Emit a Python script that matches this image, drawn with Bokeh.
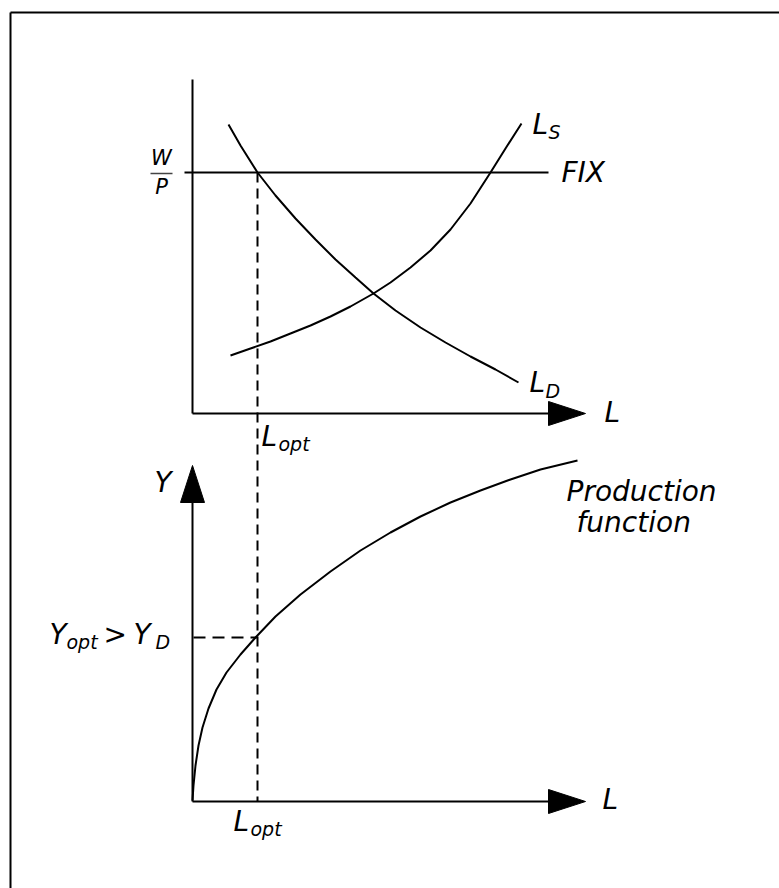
from bokeh.plotting import figure
from bokeh.models import Range1d
from bokeh.core.properties import value
from bokeh.embed import file_html
from bokeh.resources import INLINE

# ---- data (diagram coordinates: x to the right, y downward) ----
# Labour demand curve L_D (top panel)
ld_x = [228, 240, 257, 275, 295, 315, 335, 355, 373, 395, 420, 445, 470, 495, 518]
ld_y = [124, 145, 172, 195, 218, 239, 259, 277, 293, 310, 327, 342, 356, 369, 382]
# Labour supply curve L_S (top panel)
ls_x = [230, 250, 270, 290, 310, 330, 350, 373, 390, 410, 430, 450, 470, 490, 505, 521]
ls_y = [355, 348, 341, 333, 325, 316, 306, 293, 282, 267, 250, 229, 203, 172, 148, 123]
# Fixed real wage level
fix_y = 172
fix_x = [184, 548]
# Production function (bottom panel)
pf_x = [192, 193, 195, 198, 202, 208, 216, 226, 240, 255, 275, 300, 330, 360, 390, 420, 450, 480, 510, 540, 577]
pf_y = [800, 785, 765, 745, 727, 708, 689, 672, 654, 637, 616, 594, 571, 550, 532, 516, 502, 490, 479, 469, 460]
l_opt = 257
y_opt = 637

# axes
top_origin = (192, 413)
top_yaxis_top = 79
bot_origin = (192, 801)
bot_yaxis_top = 465
x_axis_end = 585
head_len, head_half = 37, 12

W, H = 779, 888
p = figure(width=W, height=H, x_range=Range1d(0, W), y_range=Range1d(H, 0),
           output_backend="svg", toolbar_location=None, min_border=0)
p.axis.visible = False
p.grid.visible = False
p.outline_line_color = None
p.background_fill_color = "white"
p.border_fill_color = "white"

# frame
p.line([10, 779], [12, 12], line_color="black", line_width=2)
p.line([10, 10], [12, 888], line_color="black", line_width=2)

# top panel axes
p.line([top_origin[0], top_origin[0]], [top_yaxis_top, top_origin[1]], line_color="black", line_width=2)
p.line([top_origin[0], x_axis_end - head_len + 2], [top_origin[1], top_origin[1]], line_color="black", line_width=2)
p.patch([x_axis_end - head_len, x_axis_end, x_axis_end - head_len],
        [top_origin[1] - head_half, top_origin[1], top_origin[1] + head_half], color="black")

# bottom panel axes
p.line([bot_origin[0], bot_origin[0]], [bot_yaxis_top + head_len - 2, bot_origin[1]], line_color="black", line_width=2)
p.patch([bot_origin[0] - head_half, bot_origin[0], bot_origin[0] + head_half],
        [bot_yaxis_top + head_len, bot_yaxis_top, bot_yaxis_top + head_len], color="black")
p.line([bot_origin[0], x_axis_end - head_len + 2], [bot_origin[1], bot_origin[1]], line_color="black", line_width=2)
p.patch([x_axis_end - head_len, x_axis_end, x_axis_end - head_len],
        [bot_origin[1] - head_half, bot_origin[1], bot_origin[1] + head_half], color="black")

# curves
p.line(fix_x, [fix_y, fix_y], line_color="black", line_width=2)
p.line(ld_x, ld_y, line_color="black", line_width=2)
p.line(ls_x, ls_y, line_color="black", line_width=2)
p.line(pf_x, pf_y, line_color="black", line_width=2)

# dashed guides
p.line([l_opt, l_opt], [fix_y, bot_origin[1]], line_color="black", line_width=2, line_dash="10 6")
p.line([bot_origin[0] + 1, l_opt], [y_opt, y_opt], line_color="black", line_width=2, line_dash="12 7")

# W/P fraction bar
p.line([150, 172], [173, 173], line_color="#444444", line_width=1.5)

F = value("DejaVu Sans")
K = 0.38  # baseline compensation

def txt(x, y, s, size, align="left"):
    p.text(x=[x], y=[y - K * size], text=[s], text_font=F, text_font_style="italic",
           text_font_size=f"{size}px", text_color="black", text_align=align,
           text_baseline="alphabetic")

big = 28
sub = 19
txt(161, 165, "W", 21, "center")
txt(161, 194, "P", 21, "center")
txt(532, 135, "L", big)
txt(548, 139, "S", sub)
txt(561, 183, "FIX", big)
txt(529, 393, "L", big)
txt(545, 398, "D", sub)
txt(604, 423, "L", big)
txt(261, 447, "L", big)
txt(278, 451, "opt", sub)
txt(154, 493, "Y", big)
txt(566, 502, "Production", big)
txt(576, 533, "function", big)
txt(49, 645, "Y", big)
txt(66, 649, "opt", sub)
txt(103, 645, ">", big)
txt(133, 645, "Y", big)
txt(155, 649, "D", sub)
txt(602, 810, "L", big)
txt(233, 832, "L", big)
txt(250, 836, "opt", sub)

open("out.html", "w").write(file_html(p, INLINE))
